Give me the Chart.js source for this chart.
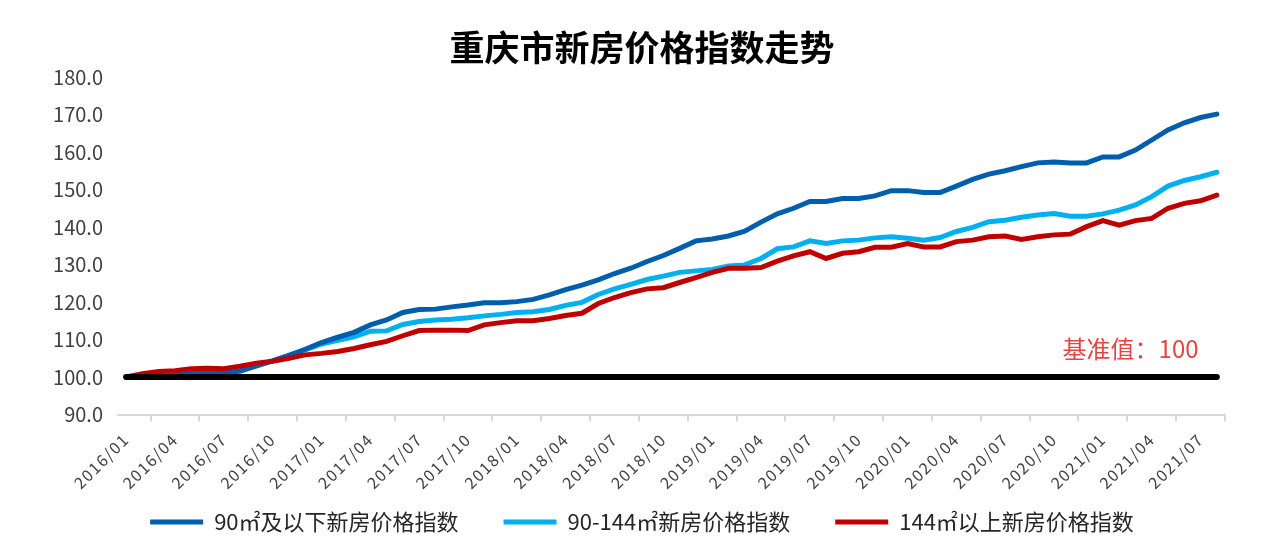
<!DOCTYPE html>
<html>
<head>
<meta charset="utf-8">
<script src="https://cdn.jsdelivr.net/npm/chart.js@4.4.1/dist/chart.umd.min.js"></script>
<style>
  html, body { margin: 0; padding: 0; background: #fff; }
  #wrap { width: 1284px; height: 548px; }
</style>
</head>
<body>
<div id="wrap"><canvas id="line"></canvas></div>
<script>
// months 2016/01 .. 2021/08
var months = [];
for (var y = 2016; y <= 2021; y++) {
  for (var m = 1; m <= 12; m++) {
    if (y == 2021 && m > 8) break;
    months.push(y + "/" + (m < 10 ? "0" + m : m));
  }
}

var small = [100.0, 100.3, 100.6, 100.8, 101.0, 101.0, 101.1, 101.6, 103.0, 104.3,
  105.8, 107.4, 109.2, 110.6, 111.9, 113.9, 115.2, 117.2, 118.0, 118.1,
  118.7, 119.2, 119.8, 119.8, 120.1, 120.7, 121.9, 123.3, 124.5, 125.9,
  127.6, 129.0, 130.8, 132.4, 134.3, 136.3, 136.8, 137.6, 138.9, 141.3,
  143.5, 145.0, 146.8, 146.8, 147.6, 147.6, 148.3, 149.7, 149.7, 149.2,
  149.2, 150.9, 152.7, 154.1, 155.0, 156.1, 157.1, 157.3, 157.1, 157.1,
  158.7, 158.7, 160.5, 163.2, 165.9, 167.8, 169.2, 170.1];

var middle = [100.0, 100.3, 100.6, 100.8, 101.0, 101.0, 101.1, 101.6, 103.0, 104.3,
  105.8, 107.2, 108.8, 109.8, 110.7, 112.2, 112.3, 114.0, 114.8, 115.2,
  115.4, 115.8, 116.3, 116.7, 117.2, 117.4, 118.0, 119.1, 119.9, 122.0,
  123.5, 124.7, 126.0, 126.9, 127.9, 128.3, 128.7, 129.6, 129.9, 131.6,
  134.2, 134.7, 136.3, 135.6, 136.3, 136.5, 137.1, 137.4, 137.0, 136.5,
  137.2, 138.8, 139.9, 141.4, 141.8, 142.6, 143.2, 143.6, 142.9, 142.9,
  143.5, 144.5, 145.9, 148.1, 150.9, 152.4, 153.4, 154.6];

var large = [100.0, 100.9, 101.5, 101.7, 102.2, 102.3, 102.2, 102.9, 103.7, 104.2,
  105.0, 105.9, 106.3, 106.8, 107.6, 108.6, 109.5, 111.0, 112.4, 112.5,
  112.5, 112.4, 113.9, 114.5, 115.0, 115.0, 115.6, 116.4, 117.0, 119.6,
  121.2, 122.5, 123.5, 123.8, 125.2, 126.5, 127.9, 129.0, 129.0, 129.2,
  130.9, 132.3, 133.4, 131.6, 133.0, 133.4, 134.6, 134.6, 135.6, 134.7,
  134.7, 136.1, 136.5, 137.4, 137.6, 136.7, 137.4, 137.9, 138.1, 140.1,
  141.7, 140.5, 141.7, 142.3, 145.0, 146.3, 147.0, 148.5];

var baseValue = 100;
var baseline = months.map(function () { return baseValue; });
var yTicks = [90, 100, 110, 120, 130, 140, 150, 160, 170, 180];

var FONT = "'Noto Sans CJK SC', 'Noto Sans', sans-serif";

// red note above the 100 line
var notePlugin = {
  id: "note",
  afterDatasetsDraw: function (chart) {
    var c = chart.ctx;
    var xs = chart.scales.x, ys = chart.scales.y;
    c.save();
    c.font = "24px " + FONT;
    c.fillStyle = "#e34545";
    c.textAlign = "right";
    c.textBaseline = "middle";
    c.fillText("基准值：" + baseValue, xs.getPixelForValue(months.length - 2) - 2, ys.getPixelForValue(baseValue) - 28);
    c.restore();
  }
};

// legend sits over the bottom of the x axis box (labels and legend share rows)
var legendSpot = {
  id: "legendSpot",
  beforeLayout: function (chart) {
    var lg = chart.legend;
    if (lg && !lg._patched) {
      var fit = lg.fit;
      lg.fit = function () { fit.apply(this, arguments); this.height = 0; };
      lg._patched = true;
    }
  },
  afterLayout: function (chart) {
    var lg = chart.legend;
    lg.top = 466;
    lg.bottom = 548;
  }
};

let ctx = document.querySelector("#line");

const myChart = new Chart(ctx, {
  type: "line",
  data: {
    labels: months,
    datasets: [
      { label: "90㎡及以下新房价格指数", data: small, borderColor: "#005eac", backgroundColor: "#005eac", borderWidth: 5, borderCapStyle: "round", pointRadius: 0, order: 2 },
      { label: "90-144㎡新房价格指数", data: middle, borderColor: "#00b0f0", backgroundColor: "#00b0f0", borderWidth: 5, borderCapStyle: "round", pointRadius: 0, order: 3 },
      { label: "144㎡以上新房价格指数", data: large, borderColor: "#c00000", backgroundColor: "#c00000", borderWidth: 5, borderCapStyle: "round", pointRadius: 0, order: 1 },
      { label: "基准值", data: baseline, borderColor: "#000000", backgroundColor: "#000000", borderWidth: 6, borderCapStyle: "round", pointRadius: 0, order: 0 }
    ]
  },
  options: {
    responsive: true,
    maintainAspectRatio: false,
    animation: false,
    layout: { padding: 0 },
    plugins: {
      title: {
        display: true,
        text: "重庆市新房价格指数走势",
        color: "#000",
        font: { family: FONT, size: 35, weight: "bold" },
        padding: { top: 27, bottom: 8 }
      },
      legend: {
        position: "bottom",
        labels: {
          filter: function (item) { return item.datasetIndex < 3; },
          sort: function (a, b) { return a.datasetIndex - b.datasetIndex; },
          usePointStyle: true,
          pointStyle: "line",
          pointStyleWidth: 53,
          boxHeight: 22,
          padding: 45,
          color: "#262626",
          font: { family: FONT, size: 22 }
        }
      },
      tooltip: { enabled: false }
    },
    scales: {
      x: {
        offset: true,
        grid: { offset: true, drawOnChartArea: false, drawTicks: true, tickLength: 7, color: "#d9d9d9", lineWidth: 2 },
        border: { display: true, color: "#d9d9d9", width: 2 },
        ticks: {
          autoSkip: false,
          maxRotation: 45,
          minRotation: 45,
          padding: 8,
          color: "#404040",
          font: { family: FONT, size: 16 },
          callback: function (v, i) { return i % 3 == 0 ? months[i] : null; }
        },
        afterFit: function (s) { s.height = 133.5; },
        afterUpdate: function (s) {
          if (s._spaced) return;
          var draw = s.drawLabels;
          s.drawLabels = function (area) {
            var c = this.ctx;
            c.save();
            c.letterSpacing = "1.5px";
            draw.call(this, area);
            c.restore();
          };
          s._spaced = true;
        }
      },
      y: {
        min: 90,
        max: 180,
        grid: { display: false, drawTicks: false },
        border: { display: false },
        afterBuildTicks: function (s) { s.ticks = yTicks.map(function (v) { return { value: v }; }); },
        ticks: {
          padding: 15,
          color: "#404040",
          font: { family: FONT, size: 20 },
          callback: function (v) { return v.toFixed(1); }
        },
        afterFit: function (s) { s.width = 118; }
      },
      // empty right-hand box so the plot ends where the original does
      pad: {
        position: "right",
        grid: { display: false, drawTicks: false },
        border: { display: false },
        ticks: { display: false },
        afterFit: function (s) { s.width = 59; }
      }
    }
  },
  plugins: [notePlugin, legendSpot]
});
</script>
</body>
</html>
